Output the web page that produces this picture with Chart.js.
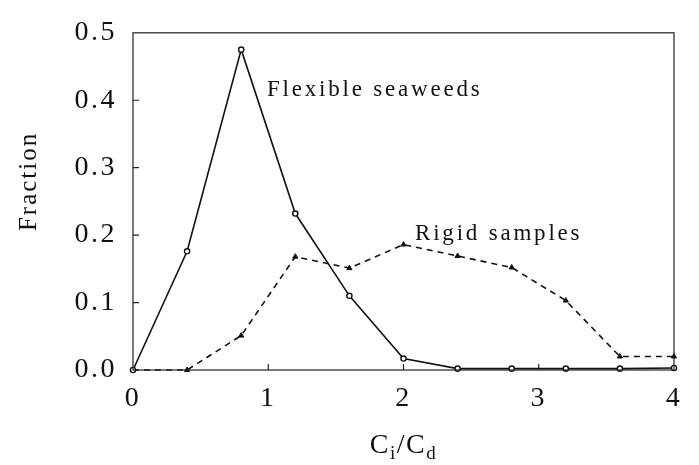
<!DOCTYPE html>
<html>
<head>
<meta charset="utf-8">
<script src="https://cdn.jsdelivr.net/npm/chart.js@4"></script>
<style>
  html, body { margin:0; padding:0; background:#fff; }
  #wrap { width:699px; height:465px; }
</style>
</head>
<body>
<div id="wrap"><canvas id="c" width="699" height="465"></canvas></div>
<script>
// ratio values along the x axis
const ratios   = [0, 0.4, 0.8, 1.2, 1.6, 2.0, 2.4, 2.8, 3.2, 3.6, 4.0];
const flexible = [0, 0.176, 0.475, 0.232, 0.110, 0.017, 0.002, 0.002, 0.002, 0.002, 0.003];
const rigid    = [0, 0, 0.051, 0.168, 0.151, 0.186, 0.169, 0.152, 0.103, 0.020, 0.020];
const xTicks   = [0, 1, 2, 3, 4];
const yTicks   = [0, 0.1, 0.2, 0.3, 0.4, 0.5];

const SERIF = "'Liberation Serif', 'DejaVu Serif', serif";

const pts = ys => ratios.map((x, i) => ({ x, y: ys[i] }));

// frame, inward ticks, axis titles and in-plot labels
const decor = {
  id: 'decor',
  beforeDraw(chart) { chart.ctx.letterSpacing = '2.5px'; },
  afterDraw(chart) {
    const { ctx, chartArea: a, scales: { x, y } } = chart;
    ctx.save();
    ctx.strokeStyle = '#222';
    ctx.lineWidth = 1.2;
    ctx.strokeRect(a.left, a.top, a.right - a.left, a.bottom - a.top);
    ctx.beginPath();
    xTicks.slice(1, -1).forEach(v => {
      const px = x.getPixelForValue(v);
      ctx.moveTo(px, a.bottom); ctx.lineTo(px, a.bottom - 6);
    });
    yTicks.slice(1, -1).forEach(v => {
      const py = y.getPixelForValue(v);
      ctx.moveTo(a.left, py); ctx.lineTo(a.left + 6, py);
    });
    ctx.stroke();

    ctx.fillStyle = '#111';
    ctx.textBaseline = 'alphabetic';
    ctx.letterSpacing = '2.8px';
    ctx.font = `23px ${SERIF}`;
    ctx.textAlign = 'left';
    ctx.fillText('Flexible seaweeds', x.getPixelForValue(0.99), y.getPixelForValue(0.406));
    ctx.fillText('Rigid samples', x.getPixelForValue(2.085), y.getPixelForValue(0.193));

    // x title C_i/C_d
    ctx.letterSpacing = '1.5px';
    const big = `28px ${SERIF}`, small = `19px ${SERIF}`;
    const parts = [['C', big, 0], ['i', small, 6], ['/', big, 0], ['C', big, 0], ['d', small, 6]];
    let w = 0;
    parts.forEach(([t, f]) => { ctx.font = f; w += ctx.measureText(t).width; });
    let cx = (a.left + a.right) / 2 - w / 2;
    const base = 453;
    parts.forEach(([t, f, dy]) => {
      ctx.font = f;
      ctx.fillText(t, cx, base + dy);
      cx += ctx.measureText(t).width;
    });

    // y title
    ctx.letterSpacing = '2px';
    ctx.font = `25px ${SERIF}`;
    ctx.translate(36, (a.top + a.bottom) / 2 - 20);
    ctx.rotate(-Math.PI / 2);
    ctx.textAlign = 'center';
    ctx.fillText('Fraction', 0, 0);
    ctx.restore();
  }
};

new Chart(document.getElementById('c'), {
  type: 'line',
  data: {
    datasets: [
      {
        label: 'Flexible seaweeds',
        data: pts(flexible),
        borderColor: '#111', borderWidth: 1.6,
        pointStyle: 'circle', pointRadius: 2.6,
        pointBackgroundColor: '#fff', pointBorderColor: '#111', pointBorderWidth: 1.4,
        tension: 0, clip: false
      },
      {
        label: 'Rigid samples',
        data: pts(rigid),
        borderColor: '#111', borderWidth: 1.6, borderDash: [6, 5],
        pointStyle: 'triangle', pointRadius: 3,
        pointBackgroundColor: '#111', pointBorderColor: '#111', pointBorderWidth: 1,
        tension: 0, clip: false
      }
    ]
  },
  options: {
    responsive: false,
    animation: false,
    events: [],
    layout: { padding: { left: 0, right: 25, top: 19, bottom: 0 } },
    plugins: { legend: { display: false }, tooltip: { enabled: false } },
    scales: {
      x: {
        type: 'linear', min: 0, max: 4,
        afterFit: s => { s.height = 95; },
        afterBuildTicks: s => { s.ticks = xTicks.map(v => ({ value: v })); },
        grid: { display: false, drawTicks: false },
        border: { display: false },
        ticks: { color: '#111', padding: 12, font: { family: SERIF, size: 28 }, maxRotation: 0,
                 callback: v => String(v) }
      },
      y: {
        min: 0, max: 0.5,
        afterFit: s => { s.width = 133; },
        afterBuildTicks: s => { s.ticks = yTicks.map(v => ({ value: v })); },
        grid: { display: false, drawTicks: false },
        border: { display: false },
        ticks: { color: '#111', padding: 16, font: { family: SERIF, size: 28 },
                 callback: v => v.toFixed(1) }
      }
    }
  },
  plugins: [decor]
});
</script>
</body>
</html>
